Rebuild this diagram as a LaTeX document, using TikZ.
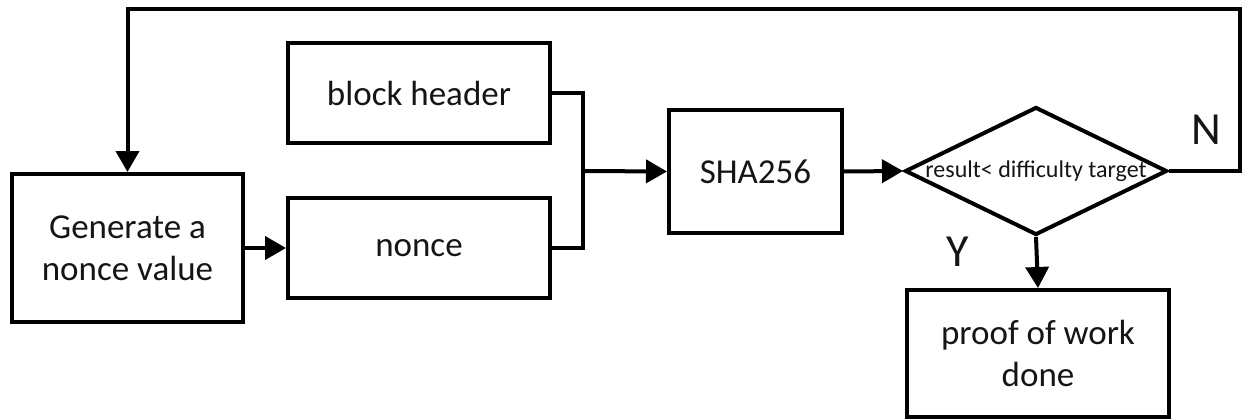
\documentclass[tikz,border=0pt]{standalone}
\usepackage{fontspec}
\setmainfont{Carlito}
\usetikzlibrary{arrows.meta,shapes.geometric}
\definecolor{ink}{HTML}{151515}
\begin{document}
\begin{tikzpicture}[x=1pt,y=-1pt,
  every node/.style={text=ink},
  box/.style={draw=black,line width=4pt,rectangle,inner sep=0pt,align=center,font=\fontsize{35}{42}\selectfont},
  decision/.style={draw=black,line width=4pt,diamond,inner sep=0pt},
  link/.style={draw=black,line width=4pt},
  arr/.style={link,-{Triangle[length=21pt,width=23pt]}},
  yn/.style={font=\fontsize{46}{50}\selectfont}]
\useasboundingbox (0,0) rectangle (1242,420);

% process boxes
\node[box,minimum width=231pt,minimum height=148pt] (gen) at (127.5,248) {Generate a\\nonce value};
\node[box,minimum width=262pt,minimum height=100pt] (bh) at (419,93) {block header};
\node[box,minimum width=262pt,minimum height=100pt] (nonce) at (419,248) {nonce};
\node[box,minimum width=173pt,minimum height=123pt] (sha) at (755.5,171.5) {SHA256};
\node[decision,minimum width=262pt,minimum height=128pt] (dec) at (1036,171) {};
\node[font=\fontsize{24}{28}\selectfont] (cond) at (1036,171) {result< difficulty target};
\node[box,minimum width=262pt,minimum height=127pt] (pow) at (1038,353.5) {proof of work\\done};

% branch labels
\node[yn] (nlab) at (1206,130) {N};
\node[yn] (ylab) at (958,252) {Y};

% junction points
\coordinate (j) at (583,171);
\coordinate (nr) at (1239.5,171);
\coordinate (tp) at (127.5,9);

% connectors
\draw[arr] (gen.east) -- (nonce.west);
\draw[link] (bh.east) -| (j) |- (nonce.east);
\draw[arr] (j) -- (sha.west);
\draw[arr] (sha.east) -- (dec.west);
\draw[arr] (dec.south) -- (pow.north);
\draw[arr] (dec.east) -- (nr) |- (tp) -- (gen.north);
\end{tikzpicture}
\end{document}
